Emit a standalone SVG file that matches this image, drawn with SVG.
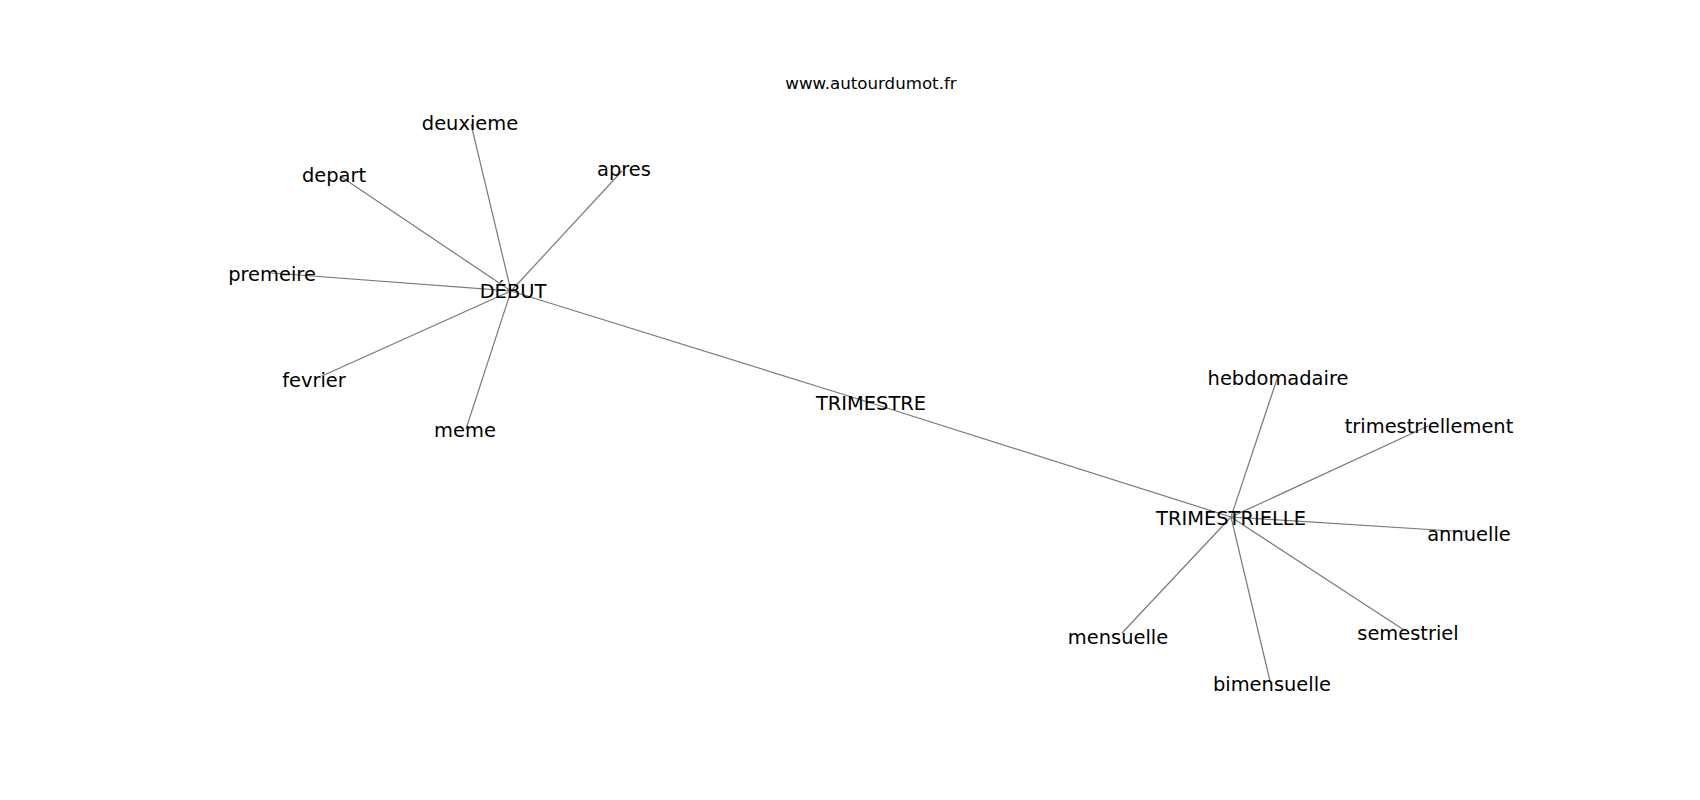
<svg xmlns="http://www.w3.org/2000/svg" width="1700" height="800" viewBox="0 0 1700 800">
<style>
.e{stroke:#7a7a7a;stroke-width:1.2;fill:none}
.n text{font-family:"DejaVu Sans",sans-serif;font-size:19.44px;fill:#000;text-anchor:middle}
.t{font-family:"DejaVu Sans",sans-serif;font-size:16.67px;fill:#000;text-anchor:middle}
</style>
<rect width="1700" height="800" fill="#fff"/>
<text class="t" x="871" y="89">www.autourdumot.fr</text>
<g id="edges">
<line class="e" x1="511" y1="291" x2="871" y2="403"/>
<line class="e" x1="871" y1="403" x2="1231" y2="517"/>
<line class="e" x1="511" y1="291" x2="471" y2="124"/>
<line class="e" x1="511" y1="291" x2="340" y2="176"/>
<line class="e" x1="511" y1="291" x2="622" y2="171"/>
<line class="e" x1="511" y1="291" x2="272" y2="273"/>
<line class="e" x1="511" y1="291" x2="322" y2="376"/>
<line class="e" x1="511" y1="291" x2="466" y2="429"/>
<line class="e" x1="1231" y1="517" x2="1277" y2="379"/>
<line class="e" x1="1231" y1="517" x2="1428" y2="426"/>
<line class="e" x1="1231" y1="517" x2="1468" y2="532"/>
<line class="e" x1="1231" y1="517" x2="1404" y2="630"/>
<line class="e" x1="1231" y1="517" x2="1270" y2="681"/>
<line class="e" x1="1231" y1="517" x2="1122" y2="633"/>
</g>
<g class="n">
<g id="debut"><text x="513" y="297.5">DÉBUT</text></g>
<g id="trimestre"><text x="871" y="409.5">TRIMESTRE</text></g>
<g id="trimestrielle"><text x="1231" y="524.5">TRIMESTRIELLE</text></g>
<g id="deuxieme"><text x="470" y="129.5">deuxieme</text></g>
<g id="depart"><text x="334" y="181.5">depart</text></g>
<g id="apres"><text x="624" y="176">apres</text></g>
<g id="premeire"><text x="272" y="280.5">premeire</text></g>
<g id="fevrier"><text x="314" y="386.5">fevrier</text></g>
<g id="meme"><text x="465" y="437">meme</text></g>
<g id="hebdomadaire"><text x="1278" y="384.5">hebdomadaire</text></g>
<g id="trimestriellement"><text x="1429" y="432.5">trimestriellement</text></g>
<g id="annuelle"><text x="1469" y="540.5">annuelle</text></g>
<g id="semestriel"><text x="1408" y="639.5">semestriel</text></g>
<g id="mensuelle"><text x="1118" y="643.5">mensuelle</text></g>
<g id="bimensuelle"><text x="1272" y="690.5">bimensuelle</text></g>
</g>
</svg>
